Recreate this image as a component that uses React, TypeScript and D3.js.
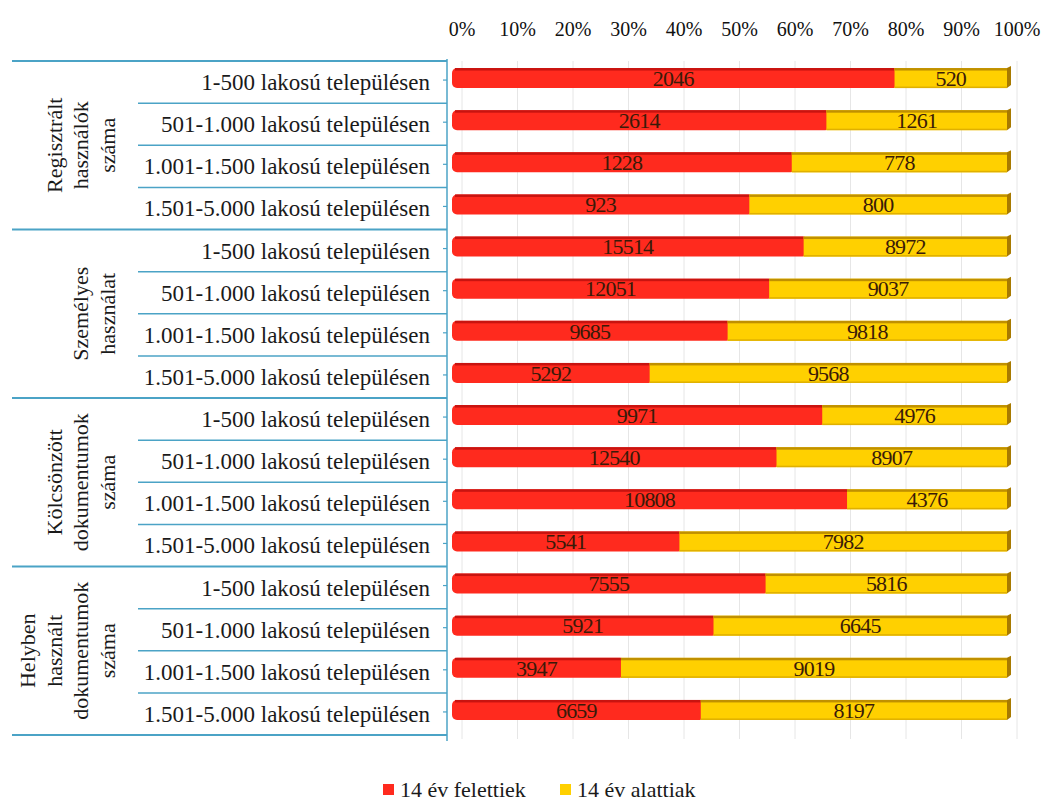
import React, { useEffect, useRef } from 'react';
import * as d3 from 'd3';

// groups (rotated labels on the left) and the four settlement-size rows inside each
const groups: string[][] = [
  ['Regisztrált', 'használók', 'száma'],
  ['Személyes', 'használat'],
  ['Kölcsönzött', 'dokumentumok', 'száma'],
  ['Helyben', 'használt', 'dokumentumok', 'száma'],
];
const rowLabels = [
  '1-500 lakosú településen',
  '501-1.000 lakosú településen',
  '1.001-1.500 lakosú településen',
  '1.501-5.000 lakosú településen',
];

// 14 év felettiek / 14 év alattiak, group by group
const over14 = [2046, 2614, 1228, 923, 15514, 12051, 9685, 5292, 9971, 12540, 10808, 5541, 7555, 5921, 3947, 6659];
const under14 = [520, 1261, 778, 800, 8972, 9037, 9818, 9568, 4976, 8907, 4376, 7982, 5816, 6645, 9019, 8197];

const seriesNames = ['14 év felettiek', '14 év alattiak'];
const ticks = [0, 0.1, 0.2, 0.3, 0.4, 0.5, 0.6, 0.7, 0.8, 0.9, 1];

const W = 1044;
const H = 804;
const FONT = '"Liberation Serif", "Times New Roman", serif';
const LINE = '#4ba3c6';
const RED = '#ff2a1e';
const RED_DARK = '#c81410';
const YEL = '#ffd000';
const YEL_DARK = '#c09000';

export default function App() {
  const svgRef = useRef<SVGSVGElement>(null);

  useEffect(() => {
    if (!svgRef.current) return;
    const svg = d3.select(svgRef.current);
    svg.selectAll('*').remove();

    const rows = over14.map((o, i) => {
      const u = under14[i];
      const t = o + u;
      return { i, o, u, po: o / t };
    });

    const top = 61;
    const bottom = 735;
    const axisX = 447;
    const x = d3.scaleLinear().domain([0, 1]).range([452, 1007]);
    const y = d3.scaleBand<number>().domain(rows.map((r) => r.i)).range([top, bottom]).paddingInner(0);
    const rowH = y.bandwidth();
    const barH = 20;
    const barY = (i: number) => y(i)! + rowH / 2 - 4 - barH / 2;

    // gridlines (shifted back wall of the 3D chart)
    svg.append('g')
      .selectAll('line')
      .data(ticks)
      .enter()
      .append('line')
      .attr('x1', (d) => x(d) + 10)
      .attr('x2', (d) => x(d) + 10)
      .attr('y1', top)
      .attr('y2', bottom + 4)
      .attr('stroke', '#e6e6e6')
      .attr('stroke-width', 1);

    // top axis labels
    svg.append('g')
      .selectAll('text')
      .data(ticks)
      .enter()
      .append('text')
      .attr('x', (d) => x(d) + 10)
      .attr('y', 36)
      .attr('text-anchor', 'middle')
      .attr('font-family', FONT)
      .attr('font-size', 20)
      .attr('fill', '#111')
      .text((d) => d3.format('.0%')(d));

    // separators on the left
    const sep = svg.append('g');
    rows.forEach((r) => {
      if (r.i % 4 === 0) return;
      sep.append('line')
        .attr('x1', 138).attr('x2', axisX)
        .attr('y1', y(r.i)!).attr('y2', y(r.i)!)
        .attr('stroke', LINE).attr('stroke-width', 1.5);
    });
    d3.range(0, groups.length + 1).forEach((g) => {
      const yy = top + g * 4 * rowH;
      sep.append('line')
        .attr('x1', 12).attr('x2', axisX)
        .attr('y1', yy).attr('y2', yy)
        .attr('stroke', LINE).attr('stroke-width', 2);
    });
    sep.append('line')
      .attr('x1', axisX).attr('x2', axisX)
      .attr('y1', top - 2).attr('y2', bottom + 6)
      .attr('stroke', LINE).attr('stroke-width', 1.5);
    rows.forEach((r) => {
      const yy = y(r.i)! + rowH / 2 - 2;
      sep.append('line')
        .attr('x1', axisX - 4).attr('x2', axisX)
        .attr('y1', yy).attr('y2', yy)
        .attr('stroke', LINE).attr('stroke-width', 1.2);
    });

    // row labels
    svg.append('g')
      .selectAll('text')
      .data(rows)
      .enter()
      .append('text')
      .attr('x', 430)
      .attr('y', (d) => y(d.i)! + rowH / 2)
      .attr('dy', '0.35em')
      .attr('text-anchor', 'end')
      .attr('font-family', FONT)
      .attr('font-size', 23)
      .attr('fill', '#1a1a1a')
      .text((d) => rowLabels[d.i % 4]);

    // group labels (rotated)
    groups.forEach((lines, g) => {
      const cy = top + (g * 4 + 2) * rowH;
      lines.forEach((ln, k) => {
        const bx = 115 - (lines.length - 1 - k) * 26.7;
        svg.append('text')
          .attr('transform', `translate(${bx},${cy}) rotate(-90)`)
          .attr('text-anchor', 'middle')
          .attr('font-family', FONT)
          .attr('font-size', 22)
          .attr('fill', '#1a1a1a')
          .text(ln);
      });
    });

    // bars
    const bars = svg.append('g');
    rows.forEach((r) => {
      const y0 = barY(r.i);
      const xs = x(0);
      const xm = x(r.po);
      const xe = x(1);
      // red segment with rounded start
      bars.append('rect')
        .attr('x', xs).attr('y', y0)
        .attr('width', xm - xs + 4).attr('height', barH)
        .attr('rx', 5)
        .attr('fill', RED);
      bars.append('rect')
        .attr('x', xs + 3).attr('y', y0)
        .attr('width', xm - xs - 3).attr('height', 2.5)
        .attr('fill', RED_DARK);
      // yellow segment
      bars.append('rect')
        .attr('x', xm).attr('y', y0)
        .attr('width', xe - xm).attr('height', barH)
        .attr('fill', YEL);
      bars.append('rect')
        .attr('x', xm).attr('y', y0)
        .attr('width', xe - xm).attr('height', 2.5)
        .attr('fill', YEL_DARK);
      bars.append('rect')
        .attr('x', xm).attr('y', y0 + barH - 1.5)
        .attr('width', xe - xm).attr('height', 1.5)
        .attr('fill', '#e0b000');
      // right cap
      bars.append('path')
        .attr('d', `M${xe},${y0} L${xe + 4},${y0 - 2} L${xe + 4},${y0 + barH - 3} L${xe},${y0 + barH} Z`)
        .attr('fill', '#a87a00');
    });

    // value labels
    const lab = svg.append('g')
      .attr('font-family', FONT)
      .attr('font-size', 22)
      .attr('fill', '#3a1a08')
      .attr('text-anchor', 'middle')
      .attr('letter-spacing', -0.8);
    rows.forEach((r) => {
      const cy = barY(r.i) + barH / 2;
      lab.append('text')
        .attr('x', (x(0) + x(r.po)) / 2)
        .attr('y', cy)
        .attr('dy', '0.35em')
        .text(r.o);
      lab.append('text')
        .attr('x', (x(r.po) + x(1)) / 2)
        .attr('y', cy)
        .attr('dy', '0.35em')
        .text(r.u);
    });

    // legend
    const legendItems = [
      { name: seriesNames[0], color: RED, x: 383 },
      { name: seriesNames[1], color: YEL, x: 560 },
    ];
    const lg = svg.append('g');
    legendItems.forEach((it) => {
      lg.append('rect')
        .attr('x', it.x).attr('y', 784)
        .attr('width', 11).attr('height', 11)
        .attr('fill', it.color);
      lg.append('text')
        .attr('x', it.x + 17).attr('y', 797)
        .attr('font-family', FONT)
        .attr('font-size', 22)
        .attr('fill', '#1a1a1a')
        .text(it.name);
    });
  }, []);

  return (
    <div style={{ position: 'absolute', left: 0, top: 0, width: W, height: H, background: '#fff' }}>
      <svg ref={svgRef} width={W} height={H} />
    </div>
  );
}
